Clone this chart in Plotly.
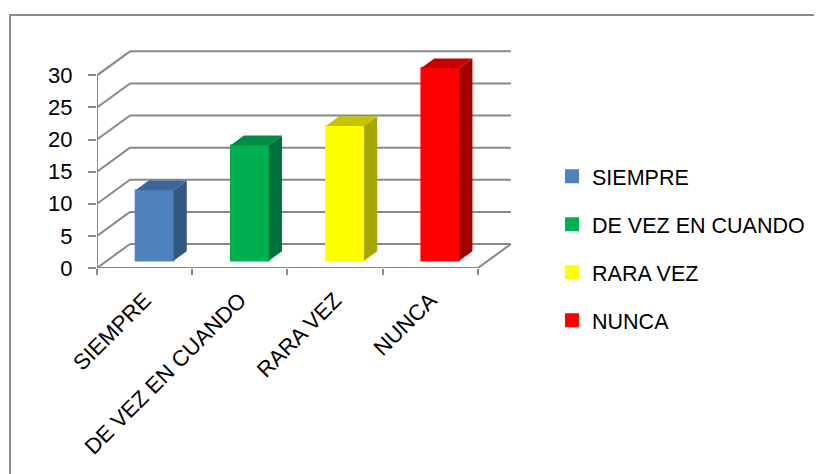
import plotly.graph_objects as go

categories = ["SIEMPRE", "DE VEZ EN CUANDO", "RARA VEZ", "NUNCA"]
values = [11, 18, 21, 30]
y_ticks = [0, 5, 10, 15, 20, 25, 30]

front_colors = ["#4F81BD", "#00B050", "#FFFF00", "#FF0000"]
side_colors = ["#34577F", "#00733A", "#A6A600", "#A30000"]
top_colors = ["#3C659C", "#008C42", "#C4C400", "#C40000"]

# pseudo-3D projection constants (style)
DX, DY = 0.3465, 3.737   # floor depth offset, in x-units / value-units
D0, D1 = 0.3, 0.7        # bar depth span (fraction of floor depth)
BW = 0.4                 # bar width (fraction of category slot)
GRID = dict(color="#888888", width=2)
FONT = "Liberation Sans"


def proj(u, d, v):
    return u + d * DX, v + d * DY


n = len(categories)
fig = go.Figure()

shapes = []
for t in y_ticks:
    x0, y0 = proj(0, 0, t)
    x1, y1 = proj(0, 1, t)
    x2, y2 = proj(n, 1, t)
    shapes.append(dict(type="line", xref="x", yref="y", x0=x0, y0=y0, x1=x1, y1=y1, layer="below", line=GRID))
    shapes.append(dict(type="line", xref="x", yref="y", x0=x1, y0=y1, x1=x2, y1=y2, layer="below", line=GRID))
# floor front edge and right edge
fx0, fy0 = proj(0, 0, 0)
fx1, fy1 = proj(n, 0, 0)
fx2, fy2 = proj(n, 1, 0)
shapes.append(dict(type="line", xref="x", yref="y", x0=fx0, y0=fy0, x1=fx1, y1=fy1, layer="below", line=GRID))
shapes.append(dict(type="line", xref="x", yref="y", x0=fx1, y0=fy1, x1=fx2, y1=fy2, layer="below", line=GRID))
# front vertical value axis
shapes.append(dict(type="line", xref="x", yref="y", x0=fx0, y0=0, x1=fx0, y1=max(y_ticks), layer="below", line=GRID))
# outer chart border
shapes.append(dict(type="rect", xref="paper", yref="paper", x0=-0.2076, y0=-1.2, x1=1.9, y1=1.1096,
                   layer="below", line=dict(color="#8C8C8C", width=2)))

for i, (cat, v) in enumerate(zip(categories, values)):
    xl = i + 0.5 - BW / 2
    xr = i + 0.5 + BW / 2
    cx, base = proj(i + 0.5, D0, 0)
    fig.add_trace(go.Bar(
        x=[cx], y=[v], base=[base], width=BW, name=cat, legendgroup=cat,
        marker=dict(color=front_colors[i], line=dict(width=1.5, color=front_colors[i])),
        hoverinfo="name+y",
    ))
    # side face
    pts = [proj(xr, D0, 0), proj(xr, D1, 0), proj(xr, D1, v), proj(xr, D0, v), proj(xr, D0, 0)]
    fig.add_trace(go.Scatter(
        x=[p[0] for p in pts], y=[p[1] for p in pts], mode="lines", fill="toself",
        fillcolor=side_colors[i], line=dict(width=0), showlegend=False, hoverinfo="skip",
    ))
    # top face
    pts = [proj(xl, D0, v), proj(xr, D0, v), proj(xr, D1, v), proj(xl, D1, v), proj(xl, D0, v)]
    fig.add_trace(go.Scatter(
        x=[p[0] for p in pts], y=[p[1] for p in pts], mode="lines", fill="toself",
        fillcolor=top_colors[i], line=dict(width=0), showlegend=False, hoverinfo="skip",
    ))

fig.update_layout(
    width=814, height=466,
    margin=dict(l=89, r=306, t=32, b=206, autoexpand=False),
    paper_bgcolor="white", plot_bgcolor="white",
    shapes=shapes,
    showlegend=True,
    font=dict(family=FONT, size=22, color="black"),
    legend=dict(x=1.086, y=0.086, xanchor="left", yanchor="middle",
                font=dict(family=FONT, size=21.5, color="black"),
                tracegroupgap=17, itemsizing="constant"),
    xaxis=dict(range=[0, 4.4], tickmode="array", tickvals=[i + 0.5 for i in range(n)],
               ticktext=categories, tickangle=-45, ticks="", showgrid=False, zeroline=False,
               showline=False, fixedrange=True, ticklabelstandoff=14,
               minor=dict(tickmode="array", tickvals=list(range(n + 1)), ticks="outside",
                          ticklen=6, tickwidth=2, tickcolor="#888888", showgrid=False)),
    yaxis=dict(range=[0, 35.5], tickmode="array", tickvals=y_ticks, ticks="outside",
               ticklen=8, tickwidth=2, tickcolor="#888888", showgrid=False, zeroline=False,
               showline=False, ticklabelstandoff=11, fixedrange=True),
)

fig.write_html("out.html")
